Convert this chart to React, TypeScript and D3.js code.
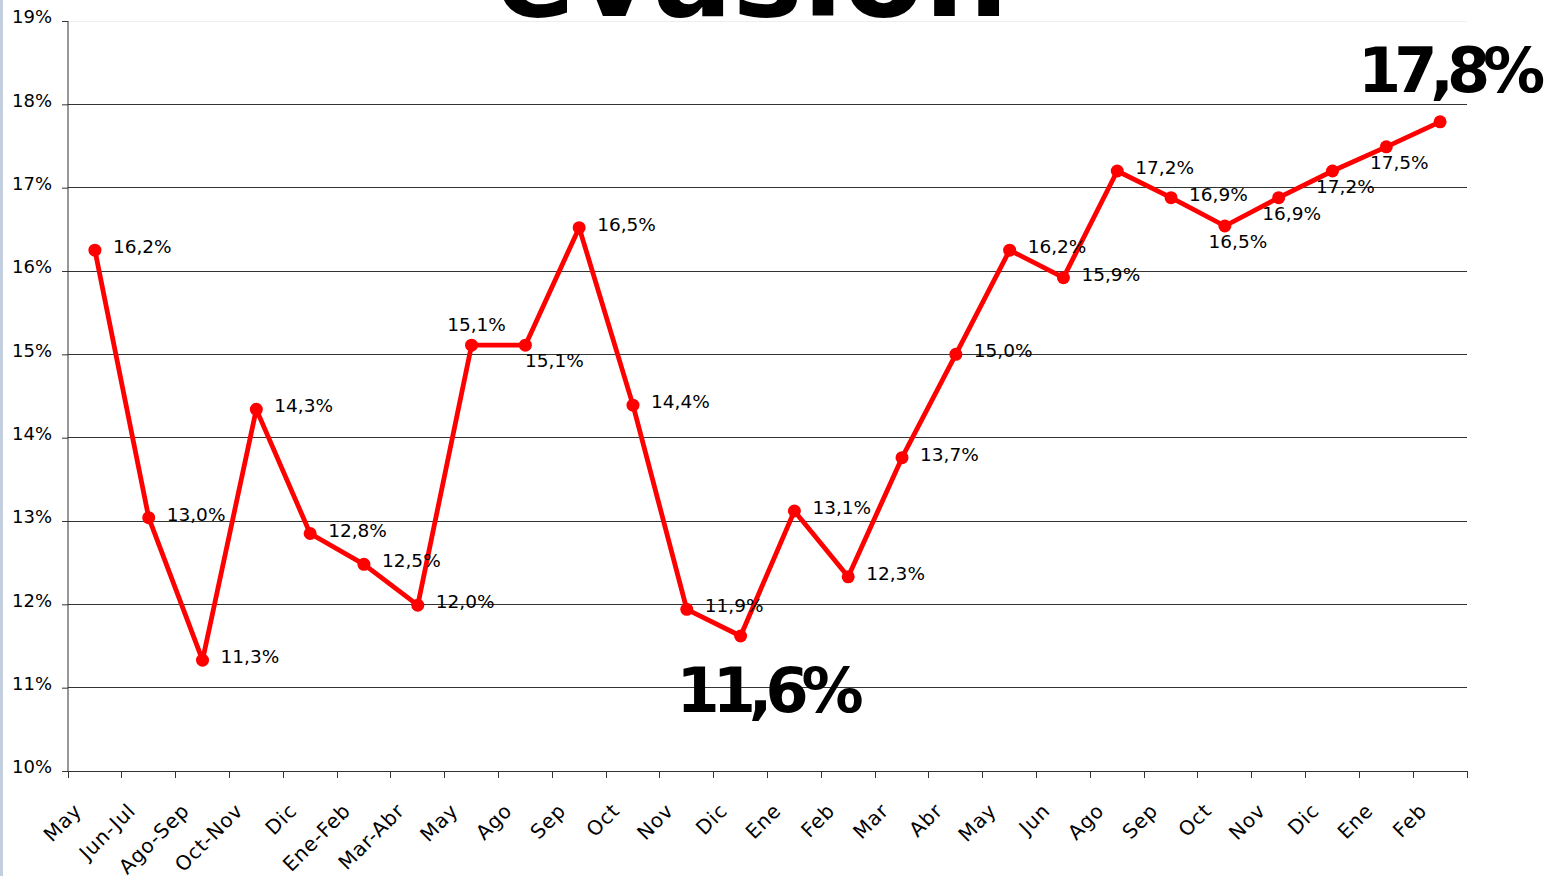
import { useEffect, useRef } from "react";
import * as d3 from "d3";

const months = [
  "May", "Jun-Jul", "Ago-Sep", "Oct-Nov", "Dic", "Ene-Feb", "Mar-Abr", "May", "Ago", "Sep",
  "Oct", "Nov", "Dic", "Ene", "Feb", "Mar", "Abr", "May", "Jun", "Ago",
  "Sep", "Oct", "Nov", "Dic", "Ene", "Feb",
];
const rates = [
  16.25, 13.04, 11.33, 14.34, 12.85, 12.48, 11.99, 15.11, 15.11, 16.52,
  14.39, 11.94, 11.62, 13.12, 12.33, 13.76, 15.0, 16.25, 15.92, 17.2,
  16.88, 16.54, 16.88, 17.2, 17.49, 17.79,
];
const rateLabels = [
  "16,2%", "13,0%", "11,3%", "14,3%", "12,8%", "12,5%", "12,0%", "15,1%", "15,1%", "16,5%",
  "14,4%", "11,9%", "11,6%", "13,1%", "12,3%", "13,7%", "15,0%", "16,2%", "15,9%", "17,2%",
  "16,9%", "16,5%", "16,9%", "17,2%", "17,5%", "17,8%",
];
// where each label sits: r = right, a = above, b = below, br = below right, big = highlighted
const labelSide = [
  "r", "r", "r", "r", "r", "r", "r", "a", "br", "r",
  "r", "r", "bigBelow", "r", "r", "r", "r", "r", "r", "r",
  "r", "b", "b", "b", "b", "bigAbove",
];
const yTicks = [10, 11, 12, 13, 14, 15, 16, 17, 18, 19];

export default function App() {
  const svgRef = useRef<SVGSVGElement>(null);

  useEffect(() => {
    document.body.style.margin = "0";
    if (!svgRef.current) return;
    const svg = d3.select(svgRef.current);
    svg.selectAll("*").remove();

    const width = 1549;
    const height = 876;
    const margin = { top: 21, right: 82, bottom: 105, left: 68 };
    const font = "DejaVu Sans, sans-serif";

    svg.append("rect").attr("width", width).attr("height", height).attr("fill", "#fff");
    svg.append("rect").attr("x", 0).attr("y", 0).attr("width", 3).attr("height", height).attr("fill", "#c3cedf");

    const x = d3.scaleBand<number>()
      .domain(d3.range(months.length))
      .range([margin.left, width - margin.right]);
    const y = d3.scaleLinear()
      .domain([10, 19])
      .range([height - margin.bottom, margin.top]);

    // title, cut off at the top as in the original slide
    svg.append("text")
      .attr("x", 752)
      .attr("y", 16)
      .attr("text-anchor", "middle")
      .attr("font-family", font)
      .attr("font-weight", "bold")
      .attr("font-size", 118)
      .attr("fill", "#000")
      .text("evasión");

    // gridlines
    svg.append("g")
      .selectAll("line")
      .data(yTicks)
      .join("line")
      .attr("x1", margin.left)
      .attr("x2", width - margin.right)
      .attr("y1", d => y(d))
      .attr("y2", d => y(d))
      .attr("stroke", d => (d === 19 ? "#eeeeee" : "#333"))
      .attr("stroke-width", 1)
      .attr("shape-rendering", "crispEdges");

    // y axis
    const yAxis = svg.append("g")
      .attr("transform", `translate(${margin.left},0)`)
      .call(d3.axisLeft(y).tickValues(yTicks).tickSize(6).tickFormat(d => `${d}%`));
    yAxis.select(".domain").attr("stroke", "#333").attr("d", `M0,${y(10)}V${y(19)}`);
    yAxis.selectAll(".tick line").attr("stroke", "#333");
    yAxis.selectAll(".tick text")
      .attr("font-family", font)
      .attr("font-size", 18)
      .attr("fill", "#000")
      .attr("x", -16)
      .attr("dy", "0.1em");

    // x axis with ticks at category boundaries
    const xLine = svg.append("g").attr("transform", `translate(0,${y(10)})`);
    xLine.append("line")
      .attr("x1", margin.left)
      .attr("x2", width - margin.right)
      .attr("stroke", "#333")
      .attr("shape-rendering", "crispEdges");
    const bounds = d3.range(months.length + 1).map(i =>
      i < months.length ? (x(i) as number) : width - margin.right);
    xLine.selectAll(".tk")
      .data(bounds)
      .join("line")
      .attr("x1", d => d)
      .attr("x2", d => d)
      .attr("y1", 0)
      .attr("y2", 7)
      .attr("stroke", "#333")
      .attr("shape-rendering", "crispEdges");
    xLine.selectAll(".lbl")
      .data(months)
      .join("text")
      .attr("transform", (_, i) => `translate(${(x(i) as number) + x.bandwidth() / 2 - 17},${36}) rotate(-45)`)
      .attr("text-anchor", "end")
      .attr("font-family", font)
      .attr("font-size", 20)
      .attr("letter-spacing", 0.8)
      .attr("fill", "#000")
      .attr("dy", "0.35em")
      .text(d => d);

    const cx = (i: number) => (x(i) as number) + x.bandwidth() / 2;

    // line
    const line = d3.line<number>()
      .x((_, i) => cx(i))
      .y(d => y(d));
    svg.append("path")
      .datum(rates)
      .attr("d", line)
      .attr("fill", "none")
      .attr("stroke", "#ff0000")
      .attr("stroke-width", 4.8)
      .attr("stroke-linejoin", "round");

    svg.append("g")
      .selectAll("circle")
      .data(rates)
      .join("circle")
      .attr("cx", (_, i) => cx(i))
      .attr("cy", d => y(d))
      .attr("r", 6.5)
      .attr("fill", "#ff0000");

    // labels
    const lbl = svg.append("g").attr("font-family", font).attr("fill", "#000");
    rates.forEach((v, i) => {
      const side = labelSide[i];
      const px = cx(i);
      const py = y(v);
      const small = () => lbl.append("text").attr("font-size", 18.5).text(rateLabels[i]);
      if (side === "r") {
        small().attr("x", px + 18).attr("y", py + 3);
      } else if (side === "a") {
        small().attr("x", px + 5).attr("y", py - 14).attr("text-anchor", "middle");
      } else if (side === "b") {
        small().attr("x", px + 13).attr("y", py + 22).attr("text-anchor", "middle");
      } else if (side === "br") {
        small().attr("x", px + 29).attr("y", py + 22).attr("text-anchor", "middle");
      } else {
        const big = lbl.append("text")
          .attr("text-anchor", "middle")
          .attr("font-size", 62)
          .attr("font-weight", "bold")
          .attr("letter-spacing", -7)
          .text(rateLabels[i]);
        if (side === "bigBelow") big.attr("x", px + 26).attr("y", py + 76);
        else big.attr("x", px + 8).attr("y", py - 30);
      }
    });
  }, []);

  return (
    <svg
      ref={svgRef}
      width={1549}
      height={876}
      style={{ display: "block" }}
    />
  );
}
